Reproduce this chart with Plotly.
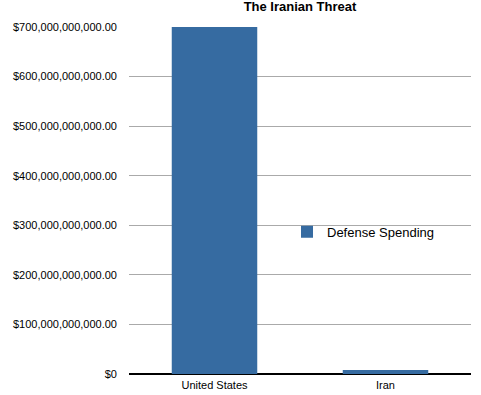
import plotly.graph_objects as go

categories = ["United States", "Iran"]
spending = [700e9, 8e9]
tick_values = [0, 100e9, 200e9, 300e9, 400e9, 500e9, 600e9, 700e9]
tick_labels = ["$0", "$100,000,000,000.00", "$200,000,000,000.00", "$300,000,000,000.00",
               "$400,000,000,000.00", "$500,000,000,000.00", "$600,000,000,000.00",
               "$700,000,000,000.00"]

fig = go.Figure()
fig.add_trace(go.Bar(x=categories, y=spending, name="Defense Spending",
                     marker=dict(color="#366ba1", line=dict(width=0)),
                     showlegend=True))

fig.update_layout(
    width=481, height=395,
    margin=dict(l=129, r=10, t=27, b=21),
    paper_bgcolor="white", plot_bgcolor="white",
    font=dict(family="Liberation Sans, Arial, sans-serif", size=11, color="black"),
    title=dict(text="<b>The Iranian Threat</b>", x=0.5, xref="paper", y=0.995, yref="container",
               yanchor="top", font=dict(size=13, color="black")),
    bargap=0.5,
    showlegend=True,
    legend=dict(x=0.462, y=0.41, xanchor="left", yanchor="middle", bgcolor="rgba(0,0,0,0)",
                font=dict(size=13, color="black"), itemwidth=30),
    xaxis=dict(showgrid=False, showline=False, ticks="", automargin=False,
               tickfont=dict(size=11), ticklabelstandoff=3),
    yaxis=dict(range=[0, 700e9], tickvals=tick_values, ticktext=tick_labels,
               showgrid=True, gridcolor="#aaaaaa", gridwidth=1,
               zeroline=True, zerolinecolor="black", zerolinewidth=1.5,
               showline=False, ticks="", automargin=False, tickfont=dict(size=11),
               ticklabelstandoff=11),
)

fig.write_html("out.html", config={"displayModeBar": False},
               post_script="document.body.style.margin='0';")
